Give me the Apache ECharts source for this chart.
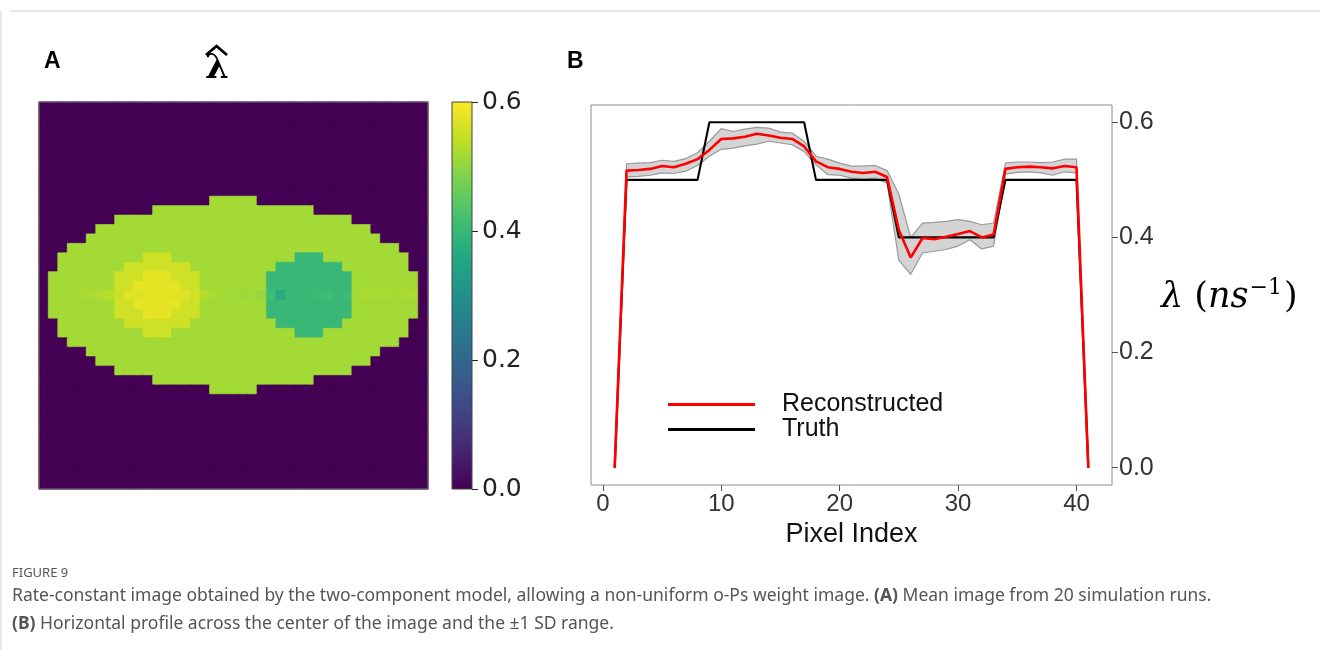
<!DOCTYPE html>
<html>
<head>
<meta charset="utf-8">
<script src="https://cdn.jsdelivr.net/npm/echarts@6/dist/echarts.min.js"></script>
<style>
html,body{margin:0;padding:0;background:#fff;}
#chart{width:1320px;height:650px;}
</style>
</head>
<body>
<div id="chart"></div>
<script>
// ---------- Panel B: horizontal profile (pixel index 1..41) ----------
const pixelIndex = [1,2,3,4,5,6,7,8,9,10,11,12,13,14,15,16,17,18,19,20,21,22,23,24,25,26,27,28,29,30,31,32,33,34,35,36,37,38,39,40,41];
const truth = [0,0.5,0.5,0.5,0.5,0.5,0.5,0.5,0.6,0.6,0.6,0.6,0.6,0.6,0.6,0.6,0.6,0.5,0.5,0.5,0.5,0.5,0.5,0.5,0.4,0.4,0.4,0.4,0.4,0.4,0.4,0.4,0.4,0.5,0.5,0.5,0.5,0.5,0.5,0.5,0];
const reconstructed = [0,0.516,0.517,0.519,0.524,0.522,0.528,0.536,0.552,0.571,0.572,0.575,0.580,0.577,0.573,0.571,0.558,0.532,0.522,0.519,0.514,0.512,0.514,0.505,0.413,0.365,0.399,0.397,0.401,0.406,0.411,0.400,0.405,0.519,0.522,0.523,0.522,0.520,0.524,0.522,0];
const sdUpper = [0,0.528,0.529,0.530,0.534,0.532,0.537,0.547,0.567,0.589,0.584,0.588,0.591,0.590,0.583,0.581,0.567,0.541,0.536,0.529,0.524,0.524,0.525,0.516,0.475,0.400,0.425,0.426,0.428,0.431,0.428,0.422,0.425,0.529,0.531,0.531,0.530,0.531,0.536,0.536,0];
const sdLower = [0,0.505,0.506,0.508,0.512,0.511,0.515,0.525,0.541,0.553,0.555,0.559,0.562,0.567,0.564,0.561,0.549,0.526,0.509,0.508,0.503,0.501,0.503,0.494,0.360,0.336,0.373,0.376,0.379,0.385,0.396,0.380,0.385,0.510,0.513,0.514,0.512,0.508,0.514,0.512,0];
const xTicks = [0,10,20,30,40];
const yTicks = [0,0.2,0.4,0.6];
const cbTicks = [0,0.2,0.4,0.6];

// ---------- Panel A: 41x41 mean image, read region by region ----------
const imageSize = 41;
const profileRow = 20;               // centre row = profile in panel B
const bodyFirstRow = 10;
const bodyStart = [18,12,8,6,5,3,2,2,1,1,1,1,1,2,2,3,5,6,8,12,18];
const bodyEnd   = [22,28,32,34,35,37,38,38,39,39,39,39,39,38,38,37,35,34,32,28,22];
const spotFirstRow = 16;
const hotStart  = [11,9,8,8,8,8,8,9,11];
const hotEnd    = [13,15,16,16,16,16,16,15,13];
const coreFirstRow = 18;
const hotCoreStart = [11,10,10,10,11];
const hotCoreEnd   = [13,14,14,14,13];
const coldStart = [27,25,24,24,24,24,24,25,27];
const coldEnd   = [29,31,32,32,32,32,32,31,29];
const bodyLevel = 0.517, hotLevel = 0.556, hotCoreLevel = 0.578, coldLevel = 0.40;

const viridis = ['#440154','#482475','#414487','#355f8d','#2a788e','#21918c','#22a884','#44bf70','#7ad151','#bddf26','#fde725'];
const cMin = 0, cMax = 0.6;

function colorOf(v) {
  let t = Math.max(0, Math.min(1, (v - cMin) / (cMax - cMin))) * (viridis.length - 1);
  const i = Math.min(viridis.length - 2, Math.floor(t)), f = t - i;
  const a = viridis[i], b = viridis[i + 1];
  const ch = k => Math.round(parseInt(a.substr(k, 2), 16) * (1 - f) + parseInt(b.substr(k, 2), 16) * f);
  return 'rgb(' + ch(1) + ',' + ch(3) + ',' + ch(5) + ')';
}

const heatData = [];
for (let r = 0; r < imageSize; r++) {
  for (let c = 0; c < imageSize; c++) {
    let v = 0;
    const bi = r - bodyFirstRow;
    if (bi >= 0 && bi < bodyStart.length && c >= bodyStart[bi] && c <= bodyEnd[bi]) v = bodyLevel;
    const si = r - spotFirstRow;
    if (si >= 0 && si < hotStart.length) {
      if (c >= hotStart[si] && c <= hotEnd[si]) v = hotLevel;
      if (c >= coldStart[si] && c <= coldEnd[si]) v = coldLevel;
    }
    const ci = r - coreFirstRow;
    if (ci >= 0 && ci < hotCoreStart.length && c >= hotCoreStart[ci] && c <= hotCoreEnd[ci]) v = hotCoreLevel;
    if (r === profileRow) v = reconstructed[c];
    heatData.push({value: [c, r, v], itemStyle: {borderColor: colorOf(v), borderWidth: 0.6}});
  }
}
const cats = [];
for (let i = 0; i < imageSize; i++) cats.push(String(i));

const pairs = arr => pixelIndex.map((x, i) => [x, arr[i]]);

const chart = echarts.init(document.getElementById('chart'), null, {renderer: 'canvas'});
const SANS = 'Liberation Sans, Arial, sans-serif';
const CAP = 'Noto Sans';

const option = {
  backgroundColor: '#ffffff',
  animation: false,
  grid: [
    {left: 39, top: 102, width: 389, height: 387, show: true, z: 10, backgroundColor: 'transparent', borderColor: '#777', borderWidth: 1},
    {left: 452, top: 102, width: 20, height: 387, show: true, z: 10, backgroundColor: 'transparent', borderColor: '#444', borderWidth: 1},
    {left: 591, top: 105, width: 521, height: 380, show: true, backgroundColor: 'transparent', borderColor: '#8c8c8c', borderWidth: 1}
  ],
  visualMap: {
    show: false, type: 'continuous', seriesIndex: 0, min: cMin, max: cMax,
    inRange: {color: viridis}
  },
  xAxis: [
    {gridIndex: 0, type: 'category', data: cats, show: false},
    {gridIndex: 1, type: 'category', data: ['cb'], show: false},
    {gridIndex: 2, type: 'value', min: -1, max: 43,
     axisLine: {show: false, onZero: false}, splitLine: {show: false},
     axisTick: {show: true, customValues: xTicks, length: 6, lineStyle: {color: '#555'}},
     axisLabel: {customValues: xTicks, fontSize: 24, color: '#333', fontFamily: SANS, margin: 7},
     name: 'Pixel Index', nameLocation: 'middle', nameGap: 36,
     nameTextStyle: {fontSize: 27, color: '#111', fontFamily: SANS}}
  ],
  yAxis: [
    {gridIndex: 0, type: 'category', data: cats, inverse: true, show: false},
    {gridIndex: 1, type: 'value', min: 0, max: 0.6, position: 'right',
     axisLine: {show: false, onZero: false}, splitLine: {show: false},
     axisTick: {show: true, customValues: cbTicks, length: 6, lineStyle: {color: '#222'}},
     axisLabel: {customValues: cbTicks, formatter: v => v.toFixed(1), fontSize: 25, color: '#222', fontFamily: 'DejaVu Sans', margin: 10}},
    {gridIndex: 2, type: 'value', min: -0.03, max: 0.63, position: 'right',
     axisLine: {show: false, onZero: false}, splitLine: {show: false},
     axisTick: {show: true, customValues: yTicks, length: 6, lineStyle: {color: '#555'}},
     axisLabel: {customValues: yTicks, formatter: v => v.toFixed(1), fontSize: 25, color: '#333', fontFamily: SANS, margin: 7}}
  ],
  legend: {
    left: 663, top: 387, orient: 'vertical', itemGap: 0,
    itemWidth: 87, itemHeight: 3, icon: 'rect',
    data: ['Reconstructed', 'Truth'],
    textStyle: {fontSize: 25, color: '#111', fontFamily: SANS, lineHeight: 24, padding: [0, 0, 0, 22]}
  },
  series: [
    {type: 'heatmap', xAxisIndex: 0, yAxisIndex: 0, data: heatData, emphasis: {disabled: true}},
    {type: 'bar', xAxisIndex: 1, yAxisIndex: 1, data: [0.6], barWidth: '100%', silent: true,
     itemStyle: {color: {type: 'linear', x: 0, y: 0, x2: 0, y2: 1,
       colorStops: viridis.slice().reverse().map((c, i) => ({offset: i / 10, color: c}))}}},
    {name: 'sdUpper', type: 'line', xAxisIndex: 2, yAxisIndex: 2, data: pairs(sdUpper),
     symbol: 'none', lineStyle: {color: '#999', width: 1.2}, areaStyle: {color: '#d4d4d4', opacity: 1, origin: 0}, silent: true, z: 1},
    {name: 'sdLower', type: 'line', xAxisIndex: 2, yAxisIndex: 2, data: pairs(sdLower),
     symbol: 'none', lineStyle: {color: '#999', width: 1.2}, areaStyle: {color: '#ffffff', opacity: 1, origin: -0.01}, silent: true, z: 2},
    {name: 'Truth', type: 'line', xAxisIndex: 2, yAxisIndex: 2, data: pairs(truth),
     symbol: 'none', color: '#000', lineStyle: {color: '#000', width: 2.1}, z: 3},
    {name: 'Reconstructed', type: 'line', xAxisIndex: 2, yAxisIndex: 2, data: pairs(reconstructed),
     symbol: 'none', color: '#ff0000', lineStyle: {color: '#ff0000', width: 2.6}, z: 4}
  ],
  graphic: [
    {type: 'line', shape: {x1: 10, y1: 11, x2: 1320, y2: 11}, style: {stroke: '#cfcfcf', lineWidth: 1}},
    {type: 'line', shape: {x1: 1, y1: 11, x2: 1, y2: 650}, style: {stroke: '#cfcfcf', lineWidth: 1}},
    {type: 'text', x: 44, y: 62, style: {text: 'A', font: 'bold 23px Liberation Sans', fill: '#000', textVerticalAlign: 'middle'}},
    {type: 'text', x: 567, y: 62, style: {text: 'B', font: 'bold 23px Liberation Sans', fill: '#000', textVerticalAlign: 'middle'}},
    {type: 'text', x: 217, y: 69, style: {text: 'λ', font: 'bold 34px DejaVu Serif', fill: '#000', textAlign: 'center', textVerticalAlign: 'middle'}},
    {type: 'polyline', shape: {points: [[206, 55], [216.5, 46], [227, 55]]}, style: {stroke: '#000', lineWidth: 2.8, fill: null}},
    {type: 'text', x: 1161, y: 298, style: {
      text: '{i|λ}{p| (}{i|ns}{s|−1}{p|)}', textVerticalAlign: 'middle',
      rich: {i: {fontSize: 35, fontFamily: 'DejaVu Serif', fontStyle: 'italic', color: '#111', lineHeight: 42},
             p: {fontSize: 35, fontFamily: 'DejaVu Serif', color: '#111', lineHeight: 42},
             s: {fontSize: 22, fontFamily: 'DejaVu Serif', color: '#111', lineHeight: 42, verticalAlign: 'top', padding: [0, 2, 16, 1]}}}},
    {type: 'text', x: 12, y: 573, style: {text: 'FIGURE 9', font: '13px Noto Sans', fill: '#555', textVerticalAlign: 'middle'}},
    {type: 'text', x: 12, y: 596, style: {
      text: 'Rate-constant image obtained by the two-component model, allowing a non-uniform o-Ps weight image. {b|(A)} Mean image from 20 simulation runs.',
      font: '17.5px Noto Sans', fill: '#555', textVerticalAlign: 'middle',
      rich: {b: {fontWeight: 'bold', fontSize: 17.5, fontFamily: CAP, color: '#555'}}}},
    {type: 'text', x: 12, y: 624, style: {
      text: '{b|(B)} Horizontal profile across the center of the image and the ±1 SD range.',
      font: '17.5px Noto Sans', fill: '#555', textVerticalAlign: 'middle',
      rich: {b: {fontWeight: 'bold', fontSize: 17.5, fontFamily: CAP, color: '#555'}}}}
  ]
};
chart.setOption(option);
</script>
</body>
</html>
